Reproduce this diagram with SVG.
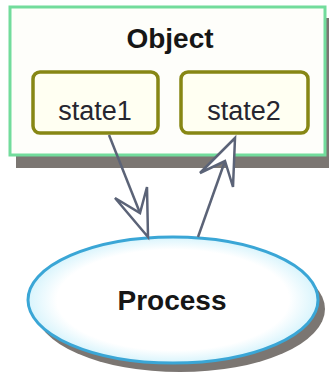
<svg xmlns="http://www.w3.org/2000/svg" width="329" height="381" viewBox="0 0 329 381">
<defs>
<style>
.shadow{fill:#7b7672}
.obj{fill:#fefefa;stroke:#72dc9c;stroke-width:3}
.state{fill:#fffff2;stroke:#878714;stroke-width:3.5}
.proc{fill:url(#pg);stroke:#3aa6d6;stroke-width:3}
.title{font-family:"Liberation Sans",Arial,sans-serif;font-weight:bold;font-size:28px;fill:#161616;text-anchor:middle}
.lbl{font-family:"Liberation Sans",Arial,sans-serif;font-size:27px;fill:#262630;text-anchor:middle}
.conn line{stroke:#5b6377;stroke-width:2.5}
.conn polygon{fill:#ffffff;stroke:#5b6377;stroke-width:2.5;stroke-linejoin:miter}
</style>
<radialGradient id="pg" cx="0.5" cy="0.5" r="0.5">
<stop offset="0.8" stop-color="#ffffff"/>
<stop offset="1" stop-color="#d8f4fc"/>
</radialGradient>
</defs>
<rect x="0" y="0" width="329" height="381" fill="#ffffff"/>
<g id="object">
<rect class="shadow" x="16" y="18" width="320" height="150"/>
<rect class="obj" x="10" y="7" width="315" height="148"/>
<text class="title" x="170" y="48">Object</text>
</g>
<g id="state1">
<rect class="state" x="33" y="72" width="125" height="61" rx="7"/>
<text class="lbl" x="95" y="120">state1</text>
</g>
<g id="state2">
<rect class="state" x="181" y="72" width="127" height="61" rx="7"/>
<text class="lbl" x="244" y="120">state2</text>
</g>
<g id="process">
<ellipse class="shadow" cx="180" cy="309" rx="145" ry="63"/>
<ellipse class="proc" cx="173" cy="300" rx="145" ry="63"/>
<text class="title" x="172" y="310">Process</text>
</g>
<g class="conn" id="connectors">
<line x1="109" y1="135" x2="140" y2="213"/>
<polygon points="148,237 115,198 140,213 147,187"/>
<line x1="198" y1="237" x2="225" y2="161"/>
<polygon points="235,138 200,173 225,161 233,187"/>
</g>
</svg>
